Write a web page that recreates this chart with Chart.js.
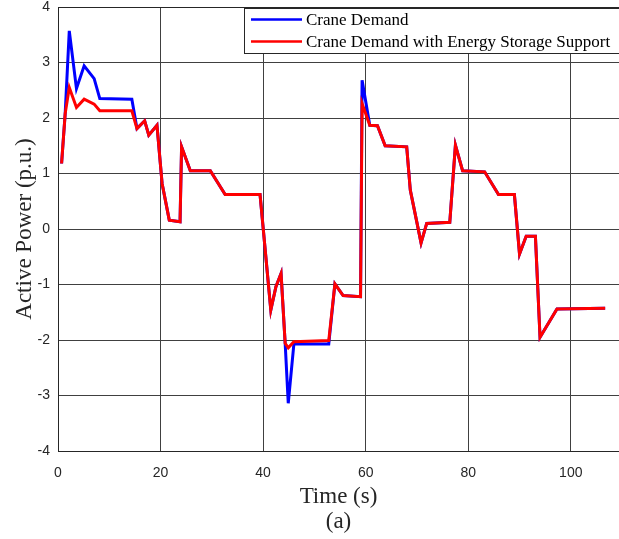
<!DOCTYPE html>
<html>
<head>
<meta charset="utf-8">
<script src="https://cdn.jsdelivr.net/npm/chart.js@4.4.1/dist/chart.umd.min.js"></script>
<style>
  html, body { margin: 0; padding: 0; background: #ffffff; }
  #wrap { width: 619px; height: 539px; }
</style>
</head>
<body>
<div id="wrap"><canvas id="c" width="619" height="539"></canvas></div>
<script>
// ---- data ----
const seriesNames = ["Crane Demand", "Crane Demand with Energy Storage Support"];
const timeS = [0.7, 1.4, 2.2, 3.6, 5.1, 7.05, 8.15, 14.4, 15.4, 16.9, 17.7, 19.3, 20.3, 21.7, 23.8, 24.1, 25.8, 29.7, 32.6, 39.4,
               41.5, 42.5, 43.5, 44.3, 44.9, 46.0, 52.8, 54.0, 55.6, 59.0, 59.3, 60.8, 62.3, 63.8, 68.0, 68.7, 70.8, 71.9, 76.4, 77.5,
               78.9, 83.2, 85.9, 89.0, 90.0, 91.3, 93.1, 94.0, 97.3, 106.7];
const craneDemand = [1.18, 2.08, 3.57, 2.53, 2.94, 2.71, 2.35, 2.34, 1.81, 1.95, 1.69, 1.87, 0.82, 0.16, 0.13, 1.48, 1.05, 1.05, 0.62, 0.62,
               -1.46, -1.04, -0.80, -2.06, -3.14, -2.07, -2.07, -0.99, -1.20, -1.22, 2.68, 1.87, 1.86, 1.50, 1.48, 0.70, -0.25, 0.10, 0.12, 1.51,
               1.05, 1.03, 0.62, 0.62, -0.45, -0.13, -0.13, -1.95, -1.44, -1.43];
const craneWithStorage = [1.18, 2.08, 2.55, 2.19, 2.34, 2.25, 2.13, 2.13, 1.81, 1.95, 1.69, 1.87, 0.82, 0.16, 0.13, 1.48, 1.05, 1.05, 0.62, 0.62,
               -1.46, -1.04, -0.80, -2.06, -2.14, -2.03, -2.01, -0.99, -1.20, -1.22, 2.26, 1.87, 1.86, 1.50, 1.48, 0.70, -0.25, 0.10, 0.12, 1.51,
               1.05, 1.03, 0.62, 0.62, -0.45, -0.13, -0.13, -1.95, -1.44, -1.43];
const xTicks = [0, 20, 40, 60, 80, 100];
const yTicks = [-4, -3, -2, -1, 0, 1, 2, 3, 4];
const xLabel = ["Time (s)", "(a)"];
const yLabel = "Active Power (p.u.)";

const toPts = (xs, ys) => xs.map((x, i) => ({ x: x, y: ys[i] }));

const frameAndLegend = {
  id: 'frameAndLegend',
  afterDraw(chart) {
    const { ctx, chartArea } = chart;
    ctx.save();
    // top frame line
    ctx.strokeStyle = '#262626';
    ctx.lineWidth = 1;
    ctx.beginPath();
    ctx.moveTo(chartArea.left, chartArea.top + 0.5);
    ctx.lineTo(chartArea.right + 2, chartArea.top + 0.5);
    ctx.stroke();
    // legend box
    const bx = 244.5, by = 8.5, bw = 400, bh = 45;
    ctx.fillStyle = '#ffffff';
    ctx.fillRect(bx, by, bw, bh);
    ctx.strokeStyle = '#262626';
    ctx.strokeRect(bx, by, bw, bh);
    ctx.font = '17px "Liberation Serif", "Times New Roman", serif';
    ctx.textBaseline = 'middle';
    ctx.textAlign = 'left';
    chart.data.datasets.forEach((ds, i) => {
      const y = 19.5 + i * 22;
      ctx.strokeStyle = ds.borderColor;
      ctx.lineWidth = 2.5;
      ctx.beginPath();
      ctx.moveTo(251, y);
      ctx.lineTo(302, y);
      ctx.stroke();
      ctx.fillStyle = '#000000';
      ctx.fillText(ds.label, 306, y + 1);
    });
    ctx.restore();
  }
};

new Chart(document.getElementById('c'), {
  type: 'line',
  data: {
    datasets: [
      { label: seriesNames[0], data: toPts(timeS, craneDemand), borderColor: '#0000ff', borderWidth: 3, pointRadius: 0, tension: 0, order: 1, fill: false },
      { label: seriesNames[1], data: toPts(timeS, craneWithStorage), borderColor: '#ff0000', borderWidth: 3, pointRadius: 0, tension: 0, order: 0, fill: false }
    ]
  },
  options: {
    responsive: false,
    animation: false,
    devicePixelRatio: 1,
    layout: { padding: { top: 0, left: 0, right: 0, bottom: 0 } },
    plugins: { legend: { display: false }, tooltip: { enabled: false } },
    scales: {
      x: {
        type: 'linear',
        min: 0,
        max: 109.4,
        afterBuildTicks: (s) => { s.ticks = xTicks.map(v => ({ value: v })); },
        afterFit: (s) => { s.height = 88; s.paddingLeft = 0; s.paddingRight = 0; },
        grid: { color: '#404040', lineWidth: 1, drawTicks: false },
        border: { color: '#262626', width: 1 },
        ticks: { color: '#262626', padding: 15, maxRotation: 0, font: { family: '"Liberation Sans", Arial, sans-serif', size: 14, lineHeight: 1 } },
        title: { display: true, text: xLabel, color: '#262626', padding: { top: 0, bottom: 4 },
                 font: { family: '"Liberation Serif", "Times New Roman", serif', size: 23, lineHeight: 1.1 } }
      },
      y: {
        type: 'linear',
        min: -4,
        max: 4,
        afterBuildTicks: (s) => { s.ticks = yTicks.map(v => ({ value: v })); },
        afterFit: (s) => { s.width = 58; s.paddingTop = 7; s.paddingBottom = 7; },
        grid: { color: '#404040', lineWidth: 1, drawTicks: false },
        border: { color: '#262626', width: 1 },
        ticks: { color: '#262626', padding: 8, font: { family: '"Liberation Sans", Arial, sans-serif', size: 14, lineHeight: 1 } },
        title: { display: true, text: yLabel, color: '#262626', padding: { top: 11, bottom: 0 },
                 font: { family: '"Liberation Serif", "Times New Roman", serif', size: 23, lineHeight: 1.2 } }
      }
    }
  },
  plugins: [frameAndLegend]
});
</script>
</body>
</html>
